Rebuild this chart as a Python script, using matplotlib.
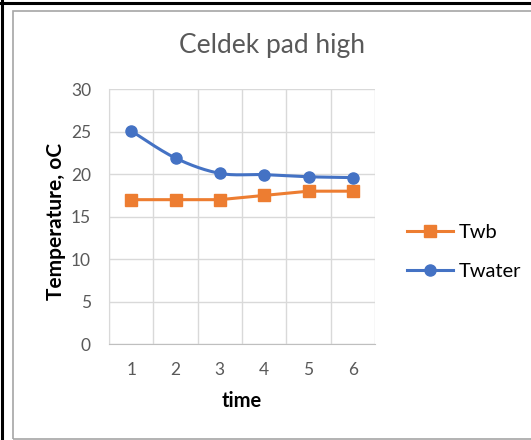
import numpy as np
import matplotlib
matplotlib.use("Agg")
import matplotlib.pyplot as plt
from matplotlib.patches import Rectangle
from matplotlib.lines import Line2D

categories = [1, 2, 3, 4, 5, 6]
twb = [17.0, 17.0, 17.0, 17.5, 18.0, 18.0]
twater = [25.1, 21.9, 20.1, 19.95, 19.7, 19.6]
yticks = [0, 5, 10, 15, 20, 25, 30]

plt.rcParams['font.family'] = ['Lato', 'DejaVu Sans']

W, H = 531, 440
fig = plt.figure(figsize=(W / 100, H / 100), dpi=100)

# frame decorations
fig.add_artist(Line2D([0, 1], [1 - 3 / H, 1 - 3 / H], color='black', lw=2.2, transform=fig.transFigure))
fig.add_artist(Line2D([1.5 / W, 1.5 / W], [0, 1], color='black', lw=2.2, transform=fig.transFigure))
fig.add_artist(Rectangle((12.5 / W, 1.5 / H), 1.2, 1 - 11.5 / H - 1.5 / H,
                         transform=fig.transFigure, fill=False, edgecolor='#a6a6a6', lw=1.2))

ax = fig.add_axes([109 / W, 1 - 344 / H, (375 - 109) / W, (344 - 89.3) / H])

def excel_smooth(x, y, n=30):
    x = np.asarray(x, float); y = np.asarray(y, float)
    px = np.concatenate([[x[0]], x, [x[-1]]])
    py = np.concatenate([[y[0]], y, [y[-1]]])
    xs, ys = [], []
    t = np.linspace(0, 1, n)
    for i in range(1, len(px) - 2):
        p0 = np.array([px[i], py[i]]); p3 = np.array([px[i + 1], py[i + 1]])
        c1 = p0 + (np.array([px[i + 1], py[i + 1]]) - np.array([px[i - 1], py[i - 1]])) / 6
        c2 = p3 - (np.array([px[i + 2], py[i + 2]]) - np.array([px[i], py[i]])) / 6
        b = ((1 - t) ** 3)[:, None] * p0 + (3 * (1 - t) ** 2 * t)[:, None] * c1 + \
            (3 * (1 - t) * t ** 2)[:, None] * c2 + (t ** 3)[:, None] * p3
        xs.append(b[:, 0]); ys.append(b[:, 1])
    return np.concatenate(xs), np.concatenate(ys)

orange = '#ed7d31'
blue = '#4472c4'

ax.plot(categories, twb, color=orange, lw=2.2, marker='s', ms=8, label='Twb', zorder=3)
sx, sy = excel_smooth(categories, twater)
ax.plot(sx, sy, color=blue, lw=2.2, zorder=3)
ax.plot(categories, twater, color=blue, lw=0, marker='o', ms=8, zorder=4)

ax.set_xlim(0.5, 6.5)
ax.set_ylim(0, 30)
ax.set_yticks(yticks)
ax.set_xticks(categories)
ax.set_xticks(np.arange(0.5, 7, 1), minor=True)
ax.grid(True, which='major', axis='y', color='#d9d9d9', lw=1)
ax.grid(True, which='minor', axis='x', color='#d9d9d9', lw=1)
ax.tick_params(which='both', length=0, labelsize=12.5, colors='#595959')
ax.tick_params(axis='x', pad=13)
ax.tick_params(axis='y', pad=13)
for s in ['top', 'right']:
    ax.spines[s].set_visible(False)
ax.spines['left'].set_color('#d9d9d9')
ax.spines['bottom'].set_color('#bfbfbf')
ax.set_axisbelow(True)

ax.set_xlabel('time', fontsize=14.5, fontweight='bold', color='black', va='center')
ax.xaxis.set_label_coords(0.5, (344 - 401) / (344 - 89.3))
ax.set_ylabel('Temperature, oC', fontsize=15, fontweight='bold', color='black', va='center')
ax.yaxis.set_label_coords((56 - 109) / (375 - 109), (344 - 221) / (344 - 89.3))
fig.text(272 / W, 1 - 45 / H, 'Celdek pad high', fontsize=19, color='#595959', ha='center', va='center')

handles = [Line2D([], [], color=orange, lw=2.2, marker='s', ms=8),
           Line2D([], [], color=blue, lw=2.2, marker='o', ms=8)]
fig.legend(handles, ['Twb', 'Twater'], loc='center left', bbox_to_anchor=(389 / W, 1 - 252 / H),
           frameon=False, fontsize=14.5, handlelength=2.3, labelspacing=1.1, handletextpad=0.25)

fig.savefig('out.png', dpi=100)
